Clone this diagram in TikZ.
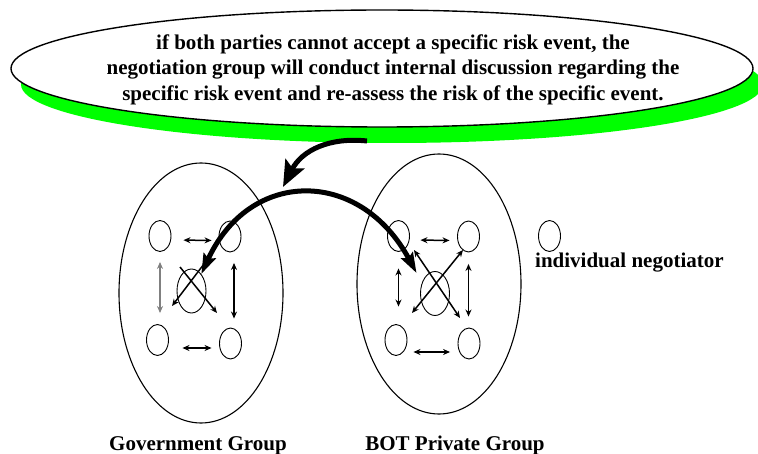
\documentclass[tikz,border=0pt]{standalone}
\usepackage{fontspec}
\setmainfont{Liberation Serif}
\usepackage{xcolor}
\usetikzlibrary{arrows.meta,shapes.geometric,shadows}
\definecolor{ink}{HTML}{000000}
\definecolor{glow}{HTML}{00FF00}
\definecolor{slate}{HTML}{808080}
\newcommand{\bigbold}{\fontsize{21}{25.5}\selectfont\bfseries}
\tikzset{
  bubble/.style={ellipse,draw=ink,line width=1.4pt,fill=white,inner sep=0pt,
    minimum width=742pt,minimum height=117pt,
    drop shadow={shadow xshift=10pt,shadow yshift=-16pt,fill=glow,opacity=1}},
  party/.style={ellipse,draw=ink,line width=1.1pt,inner sep=0pt,minimum width=164pt,minimum height=260pt},
  member/.style={ellipse,draw=ink,line width=0.9pt,inner sep=0pt,minimum width=22pt,minimum height=31pt},
  lead/.style={member,minimum width=29pt,minimum height=44pt},
  twoway/.style={line width=1.5pt,{Stealth[length=7pt,width=6pt]}-{Stealth[length=7pt,width=6pt]}},
  oneway/.style={line width=1.5pt,-{Stealth[length=7pt,width=6pt]}},
  swing/.style={line width=5pt,ink}
}
\begin{document}
\begin{tikzpicture}[x=1pt,y=-1pt]
  \useasboundingbox (0,0) rectangle (758,454);

  \node[bubble] (note) at (382,68.5) {};
  \node[font=\bigbold,align=center,inner sep=0pt] (notetext) at (393,69.5)
    {if both parties cannot accept a specific risk event, the\\
     negotiation group will conduct internal discussion regarding the\\
     specific risk event and re-assess the risk of the specific event.};

  \node[party] (gov) at (201,293) {};
  \node[party] (pri) at (439,284) {};

  \foreach \g/\ox/\cx/\cy in {g/0/191.5/291, p/238.5/435/293.5}{
    \node[member] (\g tl) at (\ox+160,236) {};
    \node[member] (\g tr) at (\ox+230,236.5) {};
    \node[member] (\g bl) at (\ox+157.5,340) {};
    \node[member] (\g br) at (\ox+230.5,343.5) {};
    \node[lead] (\g c) at (\cx,\cy) {};
  }

  \node[member] (ind) at (549.5,236) {};
  \node[font=\bigbold,anchor=base west,inner sep=0pt] (indlbl) at (535,268) {individual negotiator};

  \node[font=\bigbold,anchor=base,inner sep=0pt] (govlbl) at (198,450) {Government Group};
  \node[font=\bigbold,anchor=base,inner sep=0pt] (prilbl) at (455,450) {BOT Private Group};

  % government group
  \draw[twoway,shorten <=12pt,shorten >=7pt] ([yshift=-4pt]gtl.east) -- ([yshift=-4pt]gtr.west);
  \draw[twoway,shorten <=13.5pt,shorten >=7.5pt] ([yshift=-8pt]gbl.east) -- ([yshift=-4.5pt]gbr.west);
  \draw[twoway,slate,shorten <=10pt,shorten >=11pt] (gtl.south) -- (gtl.south |- gbl.north);
  \draw[twoway,shorten <=10.5pt,shorten >=9pt] ([xshift=4pt]gtr.south) -- ([xshift=3.5pt]gbr.north);
  \draw[oneway] ([shift={(-11.5,-24)}]gc.center) -- ([shift={(25.5,22)}]gc.center);
  \draw[oneway] ([shift={(14,-29)}]gc.center) -- ([shift={(-19.5,15)}]gc.center);

  % private group
  \draw[twoway,shorten <=10.5pt,shorten >=7.5pt] ([yshift=-4pt]ptl.east) -- ([yshift=-4pt]ptr.west);
  \draw[twoway,shorten <=6pt,shorten >=7.5pt] ([yshift=-12pt]pbl.east) -- ([yshift=-8.5pt]pbr.west);
  \draw[twoway,shorten <=16.5pt,shorten >=17.5pt] (ptl.south) -- (ptl.south |- pbl.north);
  \draw[twoway,shorten <=11.5pt,shorten >=11pt] (ptr.south) -- (ptr.south |- pbr.north);
  \draw[twoway] ([shift={(-21,-43.5)}]pc.center) -- ([shift={(25,24.5)}]pc.center);
  \draw[twoway] ([shift={(-23,19.5)}]pc.center) -- ([shift={(28,-43.5)}]pc.center);

  \coordinate (from) at (367,141);
  \coordinate (to) at (283,187);
  \draw[swing,-{Stealth[length=26pt,width=21pt,inset=5pt]}]
    (from) .. controls (330,137) and (302,150) .. (to);
  \draw[swing,{Stealth[length=20pt,width=13pt,inset=3pt]}-{Stealth[length=20pt,width=13pt,inset=3pt]}]
    (gc.60) .. controls (250,168) and (360,168) .. ([shift={(-6,-8)}]pc.135);
\end{tikzpicture}
\end{document}
